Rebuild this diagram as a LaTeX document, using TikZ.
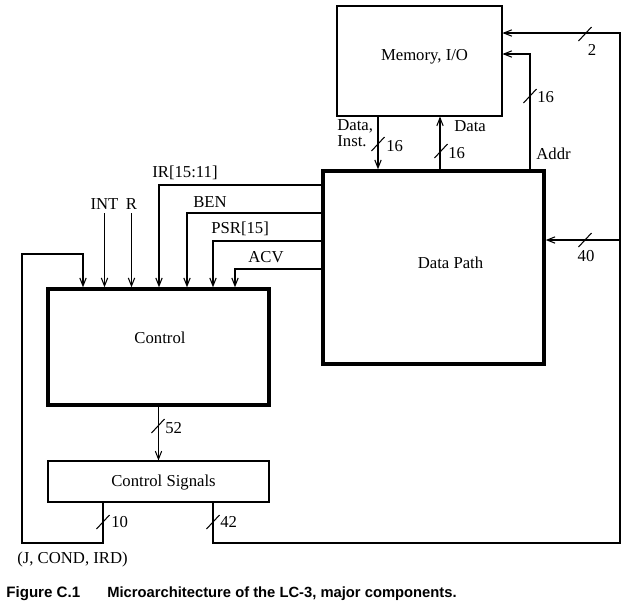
\documentclass[tikz,border=0pt]{standalone}
\usepackage{fontspec}
\setmainfont{Liberation Serif}
\newfontfamily\capfont{Liberation Sans}
\usepackage{tikz}
\usetikzlibrary{arrows.meta}

\tikzset{
  wire/.style={line width=0.6pt},
  arr/.style={wire, -{Straight Barb[length=4.5pt,width=3.6pt]}},
  unit/.style={draw, line width=0.6pt, inner sep=0pt},
  bigunit/.style={draw, line width=2pt, inner sep=0pt},
  lbl/.style={font=\fontsize{9.5}{11}\selectfont, inner sep=2pt},
}

\begin{document}
\begin{tikzpicture}[x=0.02cm, y=-0.02cm]
        \useasboundingbox (0,0) rectangle (626,603);
        % Blocks
        \node[unit, minimum width=3.3cm, minimum height=2.2cm] (mem) at (419.5,61) {};
        \node[bigunit, minimum width=4.42cm, minimum height=3.86cm] (dp) at (433.5,267.5) {};
        \node[bigunit, minimum width=4.42cm, minimum height=2.32cm] (ctrl) at (158.5,347) {};
        \node[unit, minimum width=4.42cm, minimum height=0.82cm] (sig) at (158.5,481.5) {};
        \node[lbl] (memtx) at (424.5,57) {Memory, I/O};
        \node[lbl] (dptx) at (450.5,263) {Data Path};
        \node[lbl] (ctrltx) at (160,338) {Control};
        \node[lbl] (sigtx) at (163.5,482) {Control Signals};
        % Bend points
        \coordinate (din) at (378,0);
        \coordinate (dout) at (440,0);
        \coordinate (addr) at (530,54);
        \coordinate (io) at (620,33);
        \coordinate (cs) at (620,240);
        \coordinate (rb) at (620,543);
        \coordinate (c42) at (213,543);
        \coordinate (c10) at (103,543);
        \coordinate (lb) at (22,543);
        \coordinate (lt) at (22,254);
        \coordinate (fb) at (83,254);
        \coordinate (ir) at (159,185);
        \coordinate (ben) at (187,213);
        \coordinate (psr) at (213,241);
        \coordinate (acv) at (235,269);
        % Memory <-> Data Path
        \draw[arr] (din |- mem.south) -- (din |- dp.north);
        \draw[arr] (dout |- dp.north) -- (dout |- mem.south);
        \draw[arr] (addr |- dp.north) -- (addr) -- (addr -| mem.east);
        \node[lbl, anchor=west, align=left, inner sep=0pt] (dil) at (337,133) {Data,\\[-2pt]Inst.};
        \node[lbl, anchor=west, inner sep=0pt] (dol) at (454,126) {Data};
        \node[lbl, anchor=west, inner sep=0pt] (adl) at (536,154) {Addr};
        % Control signals out
        \draw[arr] (c42 |- sig.south) -- (c42) -- (rb) -- (io) -- (io -| mem.east);
        \draw[arr] (cs) -- (cs -| dp.east);
        \draw[arr] (c10 |- sig.south) -- (c10) -- (lb) -- (lt) -- (fb) -- (fb |- ctrl.north);
        \draw[arr] (ctrl.south) -- (sig.north);
        \node[lbl, anchor=west, inner sep=0pt] (jcl) at (17,559) {(J, COND, IRD)};
        % Control inputs
        \node[lbl, anchor=south] (int) at (104.5,213) {INT};
        \node[lbl, anchor=south] (r) at (131.5,213) {R};
        \draw[arr] (int.south) -- (int.south |- ctrl.north);
        \draw[arr] (r.south) -- (r.south |- ctrl.north);
        \draw[arr] (ir -| dp.west) -- (ir) -- (ir |- ctrl.north);
        \draw[arr] (ben -| dp.west) -- (ben) -- (ben |- ctrl.north);
        \draw[arr] (psr -| dp.west) -- (psr) -- (psr |- ctrl.north);
        \draw[arr] (acv -| dp.west) -- (acv) -- (acv |- ctrl.north);
        \node[lbl, anchor=west, inner sep=0pt] (irl) at (152,173) {IR[15:11]};
        \node[lbl, anchor=west, inner sep=0pt] (benl) at (193,202) {BEN};
        \node[lbl, anchor=west, inner sep=0pt] (psrl) at (211,229) {PSR[15]};
        \node[lbl, anchor=west, inner sep=0pt] (acvl) at (248,257) {ACV};
        % Bus widths
        \foreach \x/\y in {378/144, 441/151, 530/96, 585/34, 585/240, 158/426, 103/522, 213/522}
          \draw[wire] (\x-6.5,\y+7) -- (\x+6.5,\y-7);
        \node[lbl, anchor=west, inner sep=0pt] (w1) at (386,146) {16};
        \node[lbl, anchor=west, inner sep=0pt] (w2) at (448,153) {16};
        \node[lbl, anchor=west, inner sep=0pt] (w3) at (537,97) {16};
        \node[lbl, inner sep=0pt] (w4) at (592,50) {2};
        \node[lbl, inner sep=0pt] (w5) at (586,256) {40};
        \node[lbl, anchor=west, inner sep=0pt] (w6) at (165,428) {52};
        \node[lbl, anchor=west, inner sep=0pt] (w7) at (111,522) {10};
        \node[lbl, anchor=west, inner sep=0pt] (w8) at (220,522) {42};
        % Caption
        \node[anchor=west, inner sep=0pt, font=\capfont\bfseries\fontsize{8.6}{10}\selectfont] (fig) at (6,594) {Figure C.1};
        \node[anchor=west, inner sep=0pt, font=\capfont\bfseries\fontsize{8.4}{10}\selectfont] (cap) at (107,594) {Microarchitecture of the LC-3, major components.};
      \end{tikzpicture}
\end{document}
